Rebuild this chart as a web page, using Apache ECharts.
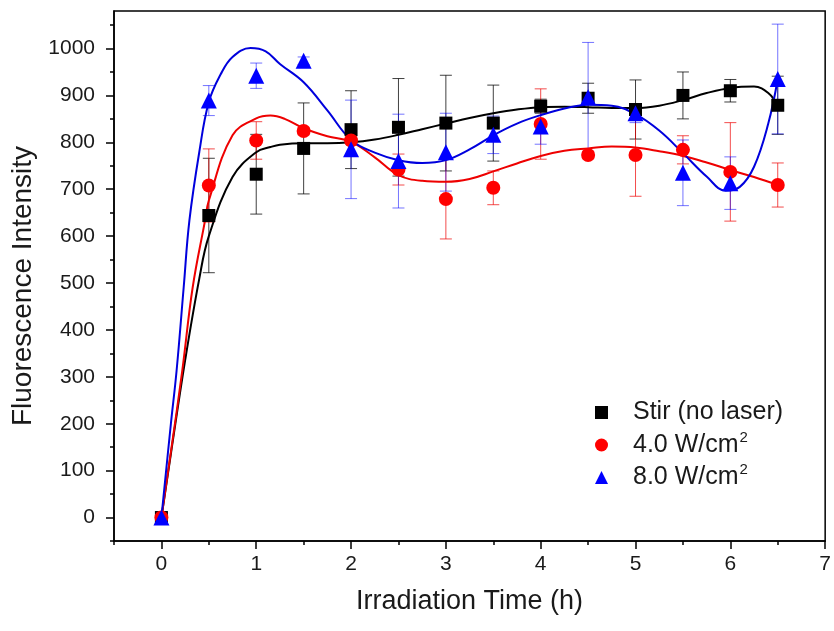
<!DOCTYPE html>
<html>
<head>
<meta charset="utf-8">
<script src="https://cdn.jsdelivr.net/npm/echarts@6/dist/echarts.min.js"></script>
<style>html,body{margin:0;padding:0;background:#fff}#c{width:834px;height:631px}</style>
</head>
<body>
<div id="c"></div>
<script>
// ---- data ----
const times = [0, 0.5, 1, 1.5, 2, 2.5, 3, 3.5, 4, 4.5, 5, 5.5, 6, 6.5];
const stirVals = [0, 644, 732, 787, 827, 832, 841, 841, 877, 894, 870, 900, 910, 879];
const stirErr  = [0, 122, 85, 97, 83, 104, 102, 81, 15, 32, 63, 50, 24, 62];
const w4Vals = [0, 708, 804, 824, 804, 742, 679, 703, 839, 773, 773, 784, 737, 709];
const w4Err  = [0, 78, 40, 8, 8, 33, 85, 36, 75, 8, 88, 30, 105, 47];
const w8Vals = [0, 889, 942, 974, 785, 760, 779, 816, 834, 896, 862, 735, 713, 935];
const w8Err  = [0, 32, 27, 8, 105, 100, 83, 40, 38, 117, 20, 70, 56, 117];

// fitted curves
const stirFitT = [0, 0.1, 0.25, 0.4, 0.5, 0.75, 1, 1.15, 1.25, 1.5, 1.75, 2, 2.25, 2.5, 2.75, 3, 3.25, 3.5, 3.75, 4, 4.25, 4.5, 4.75, 5, 5.25, 5.5, 5.75, 6, 6.25, 6.4, 6.5];
const stirFitV = [0, 136, 335, 510, 600, 726, 779, 790, 795, 798, 798, 800, 806, 816, 828, 840, 852, 862, 870, 875, 876, 875, 873, 873, 878, 890, 905, 916, 919, 905, 878];
const w4FitT = [0, 0.1, 0.22, 0.33, 0.46, 0.5, 0.75, 1, 1.15, 1.3, 1.5, 1.75, 2, 2.25, 2.5, 2.75, 3, 3.25, 3.5, 3.75, 4, 4.25, 4.5, 4.75, 5, 5.25, 5.5, 5.75, 6, 6.25, 6.5];
const w4FitV = [0, 140, 313, 491, 633, 676, 815, 851, 857, 850, 830, 813, 801, 768, 730, 718, 716, 722, 738, 755, 771, 782, 787, 791, 789, 781, 771, 757, 741, 726, 709];
const w8FitT = [0, 0.1, 0.16, 0.235, 0.295, 0.4, 0.5, 0.625, 0.75, 0.94, 1.1, 1.25, 1.5, 1.75, 2, 2.25, 2.5, 2.75, 3, 3.25, 3.5, 3.75, 4, 4.25, 4.5, 4.75, 5, 5.25, 5.5, 5.75, 5.95, 6.1, 6.25, 6.4, 6.5];
const w8FitV = [0, 200, 313, 491, 633, 780, 886, 945, 982, 1001, 994, 967, 928, 868, 805, 778, 762, 756, 762, 785, 815, 840, 858, 872, 880, 878, 860, 825, 777, 727, 697, 705, 748, 840, 935];

const xMajor = [0, 1, 2, 3, 4, 5, 6, 7];
const xMinor = [-0.5, 0.5, 1.5, 2.5, 3.5, 4.5, 5.5, 6.5];
const yMajor = [0, 100, 200, 300, 400, 500, 600, 700, 800, 900, 1000];
const yMinor = [-50, 50, 150, 250, 350, 450, 550, 650, 750, 850, 950, 1050];

const names = ['Stir (no laser)', '4.0 W/cm{sup|2}', '8.0 W/cm{sup|2}'];

// ---- build ----
const FONT = '"Liberation Sans", Arial, sans-serif';
const TXT = '#1a1a1a';
const pairs = (xs, ys) => xs.map((x, i) => [x, ys[i]]);
const errData = (vals, errs) => times.map((t, i) => [t, vals[i] - errs[i], vals[i] + errs[i]]).filter((d, i) => errs[i] > 0);

function errRender(color, opacity) {
  return function (params, api) {
    const x = api.value(0), lo = api.value(1), hi = api.value(2);
    const a = api.coord([x, hi]);
    const b = api.coord([x, lo]);
    const w = 6;
    const st = { stroke: color, lineWidth: 1, opacity: opacity };
    return {
      type: 'group',
      children: [
        { type: 'line', shape: { x1: a[0], y1: a[1], x2: b[0], y2: b[1] }, style: st },
        { type: 'line', shape: { x1: a[0] - w, y1: a[1], x2: a[0] + w, y2: a[1] }, style: st },
        { type: 'line', shape: { x1: b[0] - w, y1: b[1], x2: b[0] + w, y2: b[1] }, style: st }
      ]
    };
  };
}

const tickStyle = { color: '#000', width: 1.5 };

const chart = echarts.init(document.getElementById('c'), null, { renderer: 'canvas' });
chart.setOption({
  animation: false,
  backgroundColor: '#fff',
  grid: { left: 114, right: 6, top: 11, bottom: 90, containLabel: false, show: true, borderColor: '#000', borderWidth: 1.5 },
  xAxis: [
    {
      type: 'value', min: -0.5, max: 7, splitLine: { show: false },
      axisLine: { onZero: false, lineStyle: { color: '#000', width: 1.5 } },
      name: 'Irradiation Time (h)', nameLocation: 'middle', nameGap: 47,
      nameTextStyle: { fontFamily: FONT, fontSize: 27, color: TXT },
      axisTick: { show: true, inside: false, length: 8, customValues: xMajor, lineStyle: tickStyle },
      axisLabel: { customValues: xMajor, margin: 13, fontFamily: FONT, fontSize: 21, color: TXT, formatter: v => String(v) }
    },
    {
      type: 'value', min: -0.5, max: 7, position: 'bottom', splitLine: { show: false },
      axisLine: { show: false, onZero: false },
      axisTick: { show: true, inside: false, length: 4, customValues: xMinor, lineStyle: tickStyle },
      axisLabel: { show: false }
    }
  ],
  yAxis: [
    {
      type: 'value', min: -50, max: 1080, splitLine: { show: false },
      axisLine: { onZero: false, lineStyle: { color: '#000', width: 1.5 } },
      name: 'Fluorescence Intensity', nameLocation: 'middle', nameGap: 67,
      nameTextStyle: { fontFamily: FONT, fontSize: 28, color: TXT, padding: [0, 20, 0, 0] },
      axisTick: { show: true, inside: false, length: 8, customValues: yMajor, lineStyle: tickStyle },
      axisLabel: { customValues: yMajor, margin: 19, fontFamily: FONT, fontSize: 21, color: TXT, formatter: v => String(v) }
    },
    {
      type: 'value', min: -50, max: 1080, position: 'left', splitLine: { show: false },
      axisLine: { show: false, onZero: false },
      axisTick: { show: true, inside: false, length: 4, customValues: yMinor, lineStyle: tickStyle },
      axisLabel: { show: false }
    }
  ],
  legend: {
    data: [
      { name: names[0], itemStyle: { color: '#000' } },
      { name: names[1], itemStyle: { color: '#ff0000' } },
      { name: names[2], itemStyle: { color: '#0000ff' } }
    ],
    orient: 'vertical',
    left: 590, top: 395,
    itemWidth: 13, itemHeight: 13, itemGap: 5,
    textStyle: {
      fontFamily: FONT, fontSize: 25, color: TXT, padding: [0, 0, 0, 20],
      rich: { sup: { fontFamily: FONT, fontSize: 15, verticalAlign: 'top', padding: [0, 0, 15, 1], color: TXT } }
    }
  },
  series: [
    { type: 'custom', silent: true, renderItem: errRender('#000', 0.75), data: errData(stirVals, stirErr), z: 2 },
    { type: 'custom', silent: true, renderItem: errRender('#ee0000', 0.7), data: errData(w4Vals, w4Err), z: 2 },
    { type: 'custom', silent: true, renderItem: errRender('#0000ff', 0.55), data: errData(w8Vals, w8Err), z: 2 },
    { type: 'line', data: pairs(stirFitT, stirFitV), smooth: 0.4, showSymbol: false, lineStyle: { color: '#000', width: 2 }, z: 3, silent: true },
    { type: 'line', data: pairs(w4FitT, w4FitV), smooth: 0.4, showSymbol: false, lineStyle: { color: '#ee0000', width: 2 }, z: 3, silent: true },
    { type: 'line', data: pairs(w8FitT, w8FitV), smooth: 0.4, showSymbol: false, lineStyle: { color: '#0000dd', width: 2 }, z: 3, silent: true },
    { name: names[0], type: 'scatter', data: pairs(times, stirVals), symbol: 'rect', symbolSize: 13, itemStyle: { color: '#000', opacity: 1 }, z: 5 },
    { name: names[1], type: 'scatter', data: pairs(times, w4Vals), symbol: 'circle', symbolSize: 14, itemStyle: { color: '#ff0000', opacity: 1 }, z: 5 },
    { name: names[2], type: 'scatter', data: pairs(times, w8Vals), symbol: 'triangle', symbolSize: 16, itemStyle: { color: '#0000ff', opacity: 1 }, z: 5 }
  ]
});
</script>
</body>
</html>
